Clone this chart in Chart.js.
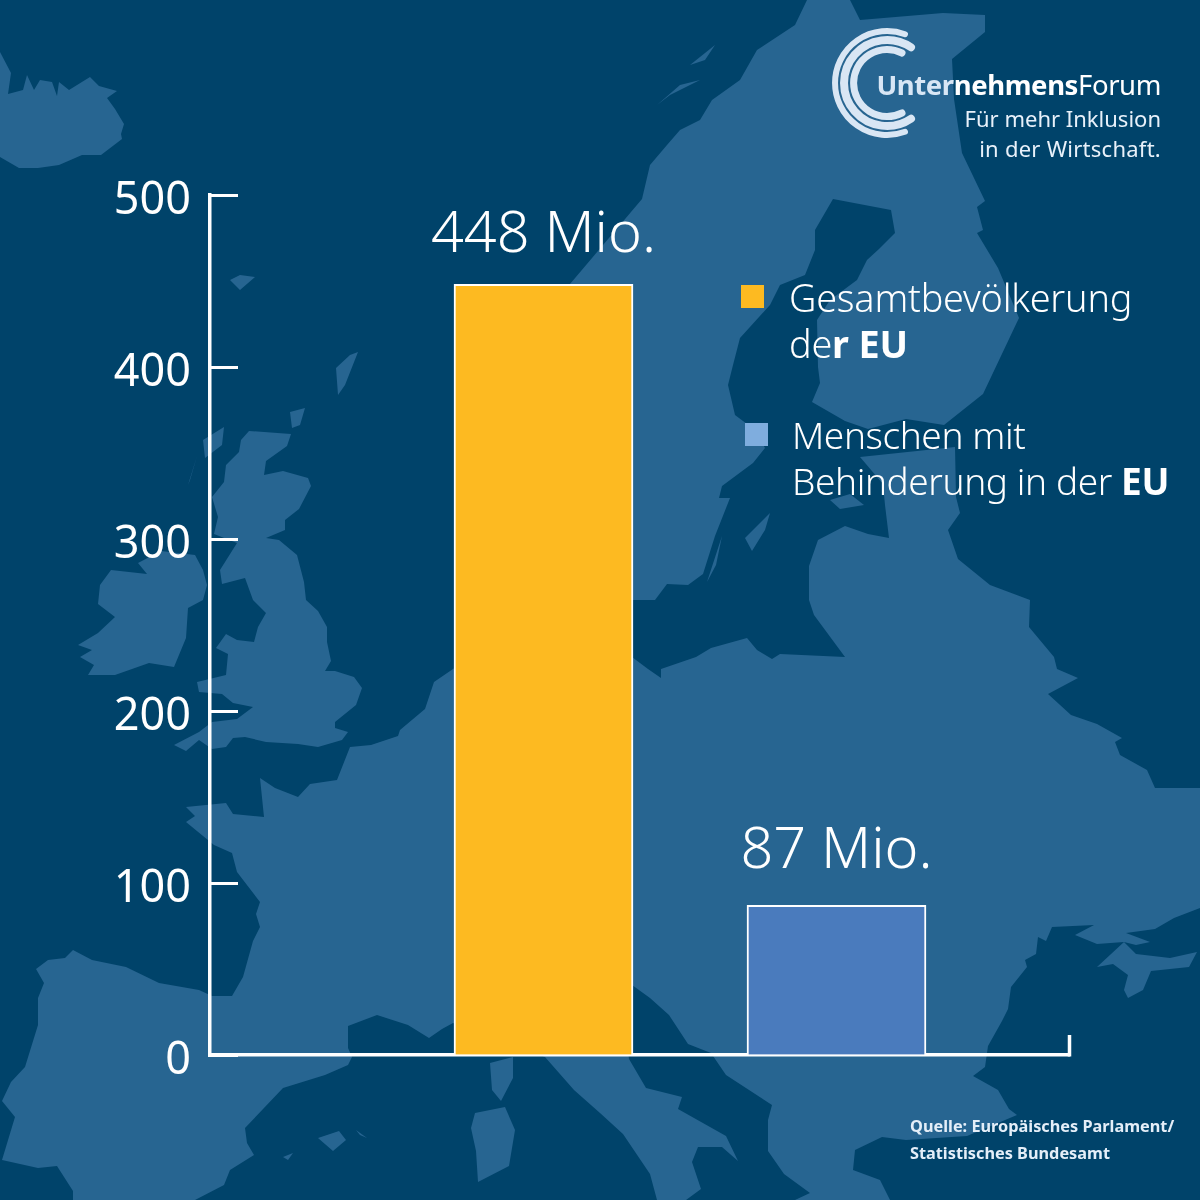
<!DOCTYPE html>
<html lang="de"><head><meta charset="utf-8">
<script src="https://cdn.jsdelivr.net/npm/chart.js@4"></script>
<style>
html,body{margin:0;padding:0;background:#00436a}
#stage{position:relative;width:1200px;height:1200px;overflow:hidden;background:#00436a;font-family:"Noto Sans",sans-serif;color:#fff}
#stage svg,#stage canvas{position:absolute;left:0;top:0}
.t{position:absolute;white-space:nowrap}
.sw{position:absolute;width:23px;height:23px}
.leg{font-family:"Noto Sans";font-weight:300;font-size:37.8px;line-height:46px;letter-spacing:-.2px}
.leg b{font-weight:700}
.src{font-family:"Noto Sans";font-weight:700;font-size:16.3px;line-height:27px;color:#e4eef8;left:910px;top:1113px}
.brand{font-size:27.5px;font-weight:700;right:39px;top:66px;letter-spacing:-.4px}
.brand i{font-style:normal;color:#d8e6f5}.brand span{font-weight:400}
.tag{right:39px;font-size:22px;text-align:right;color:#e8f1fa}
</style></head><body>
<div id="stage">
<svg width="1200" height="1200" viewBox="0 0 1200 1200">
<g fill="#276591">
<path d="M0 52L11 73L8 94L23 90L27 75L34 90L40 80L52 82L57 96L59 82L69 90L90 77L99 86L117 91L107 98L115 109L124 124L121 134L122 139L101 155L82 155L59 165L38 168L19 168L0 157Z"/>
<path d="M249 431L291 434L287 446L266 461L264 475L283 471L308 478L311 486L299 509L285 520L285 530L266 538L279 540L297 555L304 582L306 600L318 611L327 627L327 642L331 661L325 671L335 671L354 677L362 688L356 705L335 722L335 728L348 732L342 740L318 747L298 744L266 742L245 737L233 738L226 747L212 749L199 740L186 751L174 745L199 732L212 722L237 719L253 707L233 703L222 694L199 692L197 682L226 675L228 654L216 648L226 634L237 640L254 642L258 627L266 613L253 600L245 578L222 584L220 570L237 543L214 534L218 517L212 497L224 482L226 465L239 452L241 440Z"/>
<path d="M138 563L161 551L195 555L203 570L207 585L203 600L188 608L186 638L174 667L149 663L115 675L88 675L94 665L80 657L92 650L78 645L98 633L115 617L98 604L100 585L111 570L147 574Z"/>
<!-- continental Europe -->
<path d="M2 1101L11 1082L25 1067L38 1025L38 998L44 983L36 969L48 960L65 958L73 950L92 960L126 967L159 983L199 990L212 996L232 996L243 977L253 941L260 927L256 914L260 902L237 872L232 853L214 845L186 822L195 816L186 807L226 803L233 814L264 817L260 778L275 788L298 797L310 784L337 780L350 747L371 745L398 736L400 730L425 709L434 682L453 669L480 650L520 630L600 630L632 657L648 669L661 678L661 669L696 657L711 648L747 638L757 650L772 659L780 654L845 657L814 615L809 600L809 566L818 540L845 526L868 534L889 538L885 505L883 484L860 457L955 447L956 497L960 513L948 530L958 559L990 585L1030 600L1029 627L1054 657L1057 669L1078 678L1048 694L1071 715L1097 724L1122 738L1115 742L1120 755L1147 770L1155 788L1200 788L1200 908L1174 918L1155 929L1126 933L1150 942L1136 945L1124 942L1097 944L1075 935L1094 925L1052 927L1046 941L1038 937L1036 954L1025 960L1027 967L1011 987L1008 1009L1002 1021L988 1046L985 1067L973 1076L998 1090L1009 1109L1017 1115L967 1136L906 1140L882 1137L855 1150L853 1170L880 1180L890 1200L795 1200L810 1193L784 1174L768 1151L768 1120L772 1105L726 1075L711 1053L688 1044L669 1015L650 998L632 985L620 985L629 1059L646 1088L682 1097L678 1109L726 1136L738 1161L722 1147L698 1147L692 1162L701 1189L686 1200L657 1200L650 1174L623 1134L600 1113L574 1090L545 1057L453 1023L442 1029L429 1038L408 1025L377 1015L348 1026L348 1048L352 1057L348 1065L325 1075L283 1088L245 1128L247 1143L254 1155L230 1170L224 1185L195 1200L73 1200L73 1191L57 1166L38 1168L2 1160L15 1117Z"/>
<!-- Scandinavia and Finland -->
<path d="M807 0L850 0L860 20L943 13L985 15L985 32L952 59L954 99L962 153L985 201L977 207L983 230L977 233L998 268L1019 318L983 394L944 425L906 419L868 429L845 421L812 402L820 383L818 367L817 320L830 300L857 280L867 260L879 249L895 233L891 210L833 199L815 230L815 250L805 275L780 285L770 305L740 338L733 365L728 385L735 415L755 430L765 448L753 463L722 486L719 498L730 498L715 536L703 574L688 585L667 584L655 600L632 600L560 430L570 284L642 199L650 165L667 145L680 130L700 120L712 100L740 80L757 50L795 25Z"/>
<path d="M230 280L240 275L255 277L240 290ZM336 368L350 355L358 352L345 385L338 395ZM290 412L305 408L300 425L292 428ZM203 440L224 427L222 445L205 458ZM188 485L197 456L190 480ZM745 538L770 513L765 530L752 551ZM707 582L722 536L716 565ZM830 500L850 494L864 505L840 509ZM490 1063L513 1057L513 1078L501 1101L492 1090ZM475 1113L505 1107L515 1130L509 1166L478 1182L476 1151L471 1128ZM318 1138L339 1131L346 1140L333 1151ZM356 1130L367 1138L360 1135ZM283 1157L293 1153L288 1160ZM657 105L680 85L700 80L670 95ZM690 65L715 45L705 60ZM1097 967L1124 942L1136 954L1170 958L1197 952L1189 967L1151 971L1143 990L1128 998L1124 990L1128 975L1113 964Z" />
</g>
<g fill="none" stroke="#d9e6f4" stroke-linecap="round">
<path stroke-width="6" d="M905 34.2A52 52 0 1 0 905 131.8"/>
<path stroke-width="8" d="M911 47.3A43 43 0 1 0 911 118.7"/>
<path stroke-width="7" d="M902 53A33.5 33.5 0 1 0 902 113"/>
</g>
</svg>
<canvas id="c" width="1200" height="1200"></canvas>
<div class="t brand"><i>Unter</i>nehmens<span>Forum</span></div>
<div class="t tag" style="top:103px">Für mehr Inklusion</div>
<div class="t tag" style="top:133px;letter-spacing:.25px">in der Wirtschaft.</div>
<div class="sw" style="left:741px;top:285px;background:#fdba21"></div>
<div class="t leg" style="left:789px;top:275px">Gesamtbevölkerung<br>de<b>r EU</b></div>
<div class="sw" style="left:745px;top:423px;background:#7fadde"></div>
<div class="t leg" style="left:792px;top:412px;font-size:37px;letter-spacing:-.4px">Menschen mit<br>Behinderung in der <b>EU</b></div>
<div class="t src">Quelle: Europäisches Parlament/<br>Statistisches Bundesamt</div>
</div>
<script>
const categories = ["Gesamtbevölkerung der EU", "Menschen mit Behinderung in der EU"];
const values = [448, 87];
const valueLabels = ["448 Mio.", "87 Mio."];
const barColors = ["#fdba21", "#4a7bbd"];
const yTicks = [0, 100, 200, 300, 400, 500];
const labelLift = [32, 37];

const chartFont = '"Noto Sans", sans-serif';
const xMin = -0.1382, xMax = 2.7935;

const barValueLabels = {
  id: "barValueLabels",
  afterDatasetsDraw(chart) {
    const ctx = chart.ctx;
    const bars = chart.getDatasetMeta(0).data;
    ctx.save();
    ctx.fillStyle = "#fff";
    ctx.font = "300 57.5px " + chartFont;
    ctx.textAlign = "center";
    ctx.textBaseline = "alphabetic";
    bars.forEach((b, i) => ctx.fillText(valueLabels[i], b.x, b.y - labelLift[i]));
    ctx.restore();
  }
};

new Chart(document.getElementById("c"), {
  type: "bar",
  data: {
    datasets: [{
      label: "Mio.",
      data: categories.map((c, i) => ({ x: i + 1, y: values[i], name: c })),
      backgroundColor: barColors,
      borderColor: "#ffffff",
      borderWidth: 2,
      barThickness: 179
    }]
  },
  plugins: [barValueLabels],
  options: {
    responsive: false,
    animation: false,
    devicePixelRatio: 1,
    layout: { padding: { top: 195, right: 131, left: 0, bottom: 0 } },
    plugins: { legend: { display: false }, tooltip: { enabled: false } },
    scales: {
      x: {
        type: "linear", min: xMin, max: xMax, offset: false,
        afterBuildTicks(s) { s.ticks = [{ value: xMax }]; },
        afterFit(s) { s.height = 145; },
        ticks: { display: false },
        grid: { offset: false, drawOnChartArea: false, tickLength: -20, tickColor: "#fff", tickWidth: 3.5 },
        border: { color: "#fff", width: 3.5 }
      },
      y: {
        min: 0, max: 500,
        afterBuildTicks(s) { s.ticks = yTicks.map(v => ({ value: v })); },
        afterFit(s) { s.width = 210; },
        ticks: { color: "#fff", padding: 47, labelOffset: 6, font: { family: chartFont, size: 45, weight: "400" } },
        grid: { drawOnChartArea: false, tickLength: -28, tickColor: "#fff", tickWidth: 3 },
        border: { color: "#fff", width: 3.5 }
      }
    }
  }
});
</script>
</body></html>
